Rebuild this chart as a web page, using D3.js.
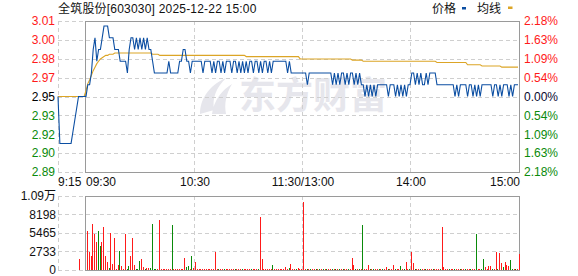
<!DOCTYPE html>
<html><head><meta charset="utf-8">
<script src="https://cdn.jsdelivr.net/npm/d3@7/dist/d3.min.js"></script>
<style>
html,body{margin:0;padding:0;background:#fff;}
svg text{font-family:"Liberation Sans",Arial,"Noto Sans CJK SC",sans-serif;font-size:12px;}
</style></head>
<body><svg id="c" width="578" height="276"></svg>
<script>
// ---------------- data ----------------
const title = "全筑股份[603030] 2025-12-22 15:00";
const legendNames = ["价格", "均线"];
const prevClose = 2.95;
const pctMax = 2.18;
const priceTickLabels = ["3.01","3.00","2.98","2.97","2.95","2.93","2.92","2.90","2.89"];
const pctTickLabels = ["2.18%","1.63%","1.09%","0.54%","0.00%","0.54%","1.09%","1.63%","2.18%"];
const timeTicks = [0, 60, 120, 180, 240];            // minutes after 09:30
const timeTickLabels = ["09:30", "10:30", "11:30/13:00", "14:00", "15:00"];
const preLabel = "9:15";
const volMax = 10930;
const volTickValues = [0, 2733, 5465, 8198, 10930];
const volTickLabels = ["0", "2733", "5465", "8198", "1.09万"];

// pre-market 9:15 - 9:29
const prePrice = [2.95,2.91,2.91,2.91,2.91,2.91,2.91,2.91,2.92,2.93,2.94,2.95,2.95,2.95,2.95];
const preAvg   = [2.95,2.95,2.95,2.95,2.95,2.95,2.95,2.95,2.95,2.95,2.95,2.95,2.95,2.95,2.95];
const preVol   = [0,0,0,0,0,0,0,0,0,0,0,1670,0,0,0];
const preDir   = "RRRRRRRRRRRRRRR";

// main session, one value per minute 09:30 .. 15:00 (241)
const price = [
2.95,2.96,2.96,2.97,2.99,3.00,2.98,2.99,2.99,3.00,
3.01,3.01,3.01,3.00,3.00,3.00,2.99,2.99,2.99,2.98,
2.98,2.98,2.98,2.97,2.99,3.00,3.00,2.99,3.00,2.99,
3.00,2.99,3.00,2.99,3.00,2.99,2.99,2.98,2.97,2.97,
2.97,2.97,2.97,2.97,2.97,2.97,2.98,2.97,2.97,2.97,
2.97,2.97,2.98,2.98,2.99,2.99,2.98,2.98,2.97,2.98,
2.98,2.98,2.98,2.98,2.98,2.97,2.98,2.98,2.98,2.98,
2.97,2.98,2.97,2.98,2.98,2.97,2.98,2.97,2.98,2.98,
2.98,2.97,2.98,2.98,2.97,2.98,2.97,2.98,2.97,2.98,
2.97,2.98,2.98,2.97,2.98,2.98,2.97,2.98,2.97,2.98,
2.98,2.97,2.98,2.97,2.98,2.98,2.98,2.98,2.98,2.98,
2.98,2.98,2.97,2.98,2.97,2.97,2.97,2.97,2.97,2.97,
2.97,2.97,2.97,2.96,2.97,2.97,2.97,2.97,2.97,2.97,
2.97,2.97,2.97,2.97,2.97,2.97,2.97,2.96,2.97,2.96,
2.97,2.96,2.97,2.97,2.96,2.97,2.96,2.97,2.97,2.96,
2.97,2.96,2.97,2.96,2.96,2.95,2.96,2.95,2.96,2.95,
2.96,2.95,2.96,2.96,2.96,2.96,2.96,2.96,2.95,2.96,
2.96,2.96,2.95,2.96,2.95,2.96,2.95,2.96,2.95,2.96,
2.96,2.97,2.97,2.96,2.97,2.96,2.97,2.96,2.96,2.97,
2.96,2.97,2.97,2.97,2.97,2.96,2.96,2.96,2.96,2.96,
2.96,2.96,2.96,2.96,2.96,2.95,2.96,2.95,2.96,2.96,
2.96,2.96,2.95,2.96,2.96,2.95,2.96,2.95,2.96,2.95,
2.96,2.96,2.96,2.96,2.96,2.96,2.95,2.96,2.96,2.95,
2.96,2.95,2.96,2.96,2.96,2.95,2.96,2.95,2.96,2.96,2.96];

const avg = [
2.955,2.961,2.964,2.968,2.972,2.975,2.978,2.980,2.982,2.983,
2.984,2.985,2.985,2.986,2.986,2.986,2.987,2.987,2.987,2.987,
2.987,2.987,2.987,2.987,2.987,2.987,2.987,2.987,2.987,2.987,
2.987,2.987,2.987,2.987,2.987,2.987,2.987,2.986,2.986,2.986,
2.986,2.985,2.985,2.985,2.985,2.985,2.985,2.985,2.985,2.985,
2.985,2.985,2.985,2.985,2.985,2.985,2.985,2.985,2.985,2.985,
2.985,2.985,2.985,2.985,2.985,2.985,2.985,2.985,2.985,2.985,
2.985,2.985,2.985,2.985,2.985,2.985,2.985,2.985,2.985,2.985,
2.985,2.985,2.985,2.985,2.985,2.985,2.985,2.985,2.985,2.984,
2.984,2.984,2.984,2.984,2.984,2.984,2.984,2.984,2.984,2.984,
2.984,2.984,2.984,2.984,2.984,2.984,2.984,2.984,2.984,2.984,
2.984,2.984,2.984,2.984,2.984,2.984,2.984,2.984,2.984,2.982,
2.982,2.982,2.982,2.982,2.982,2.982,2.982,2.982,2.982,2.982,
2.982,2.982,2.982,2.982,2.982,2.982,2.982,2.982,2.982,2.982,
2.982,2.982,2.982,2.982,2.982,2.982,2.982,2.982,2.981,2.981,
2.981,2.981,2.981,2.981,2.980,2.980,2.980,2.980,2.980,2.980,
2.980,2.980,2.980,2.980,2.980,2.980,2.980,2.980,2.980,2.980,
2.980,2.980,2.980,2.980,2.980,2.980,2.980,2.980,2.980,2.980,
2.980,2.980,2.980,2.980,2.980,2.980,2.980,2.980,2.980,2.980,
2.980,2.980,2.980,2.980,2.980,2.979,2.979,2.979,2.979,2.979,
2.979,2.979,2.979,2.979,2.979,2.979,2.979,2.979,2.979,2.979,
2.979,2.979,2.977,2.977,2.977,2.977,2.977,2.977,2.977,2.977,
2.976,2.976,2.976,2.976,2.976,2.976,2.976,2.976,2.976,2.976,
2.976,2.975,2.975,2.975,2.975,2.975,2.975,2.975,2.975,2.975,2.975];

const volume = [
5760,2650,2070,6840,5260,4130,5760,3540,4130,6350,
2070,1180,340,5460,840,4720,200,740,2800,590,
200,5310,200,590,2070,4770,740,200,150,1330,
1670,440,200,340,340,340,6840,200,200,150,
7380,200,200,150,200,200,150,6640,200,150,
200,200,150,200,1820,440,590,200,2070,340,
1180,200,150,200,200,150,200,200,150,200,
200,2650,200,150,200,200,150,200,200,150,
200,200,150,200,200,150,200,200,150,200,
200,150,200,200,150,200,7820,1670,200,150,
200,200,150,740,200,200,150,200,200,150,
440,200,340,890,150,200,150,300,200,150,
10080,200,150,200,200,150,200,200,150,200,
200,150,200,200,150,200,200,150,200,200,
150,200,200,150,200,200,150,1820,740,200,
150,200,200,6640,200,150,740,200,200,150,
200,200,150,200,200,150,440,200,150,200,
740,200,150,200,590,200,150,1180,200,150,
2650,1030,200,150,200,200,150,200,200,150,
200,200,150,200,200,150,200,6350,440,200,
150,200,200,150,200,200,150,200,200,150,
200,200,150,200,200,150,5310,200,150,200,
1620,440,200,590,590,200,150,2650,200,2510,
1030,440,1180,740,590,1480,150,200,150,200,2360];

// R = up (red) bar, G = down (green) bar
const volDir =
"RRRRRRGGRR"+"RRGRRRRRGR"+"RRGGRRRGGG"+"RRGRRGGGGR"+"RRRRRRRGRR"+
"RRRRRGGRGR"+"RRRRRRRRRR"+"RRRGRRGRRR"+"RRGRRRGRRR"+"RGRRRGRRRR"+
"RRRGRRRRRR"+"RRGRRRGRRR"+"RRGRGRRGRG"+"RGRGRRGRGR"+"GRGRRGRRRG"+
"RGRGRRRGRG"+"RRGRGRRGRR"+"RGRRGRGRRG"+"RRGRRGRRGR"+"RRGRRRGRRR"+
"RGRRGRRGRR"+"GRRGRRGRRG"+"GRRRRGRRGR"+"RGRRRGGRGRR";

// ---------------- drawing ----------------
const svg = d3.select("#c");
const C = {blue:"#0b4ea2", gold:"#dca526", red:"#ff1a1a", green:"#0a8a0a",
           grid:"#cfcfcf", frame:"#9a9a9a", text:"#111"};

const xPreL = 58, xMainL = 86, xMainR = 518, frameR = 519.5;
const pTop = 21, pBot = 172, vTop = 196, vBot = 270;

const xPre = d3.scaleLinear().domain([0, 15]).range([xPreL, xMainL]);
const x = d3.scaleLinear().domain([0, 240]).range([xMainL, xMainR]);
const pMin = prevClose * (1 - pctMax / 100), pMaxV = prevClose * (1 + pctMax / 100);
const y = d3.scaleLinear().domain([pMin, pMaxV]).range([pBot, pTop]);
const yv = d3.scaleLinear().domain([0, volMax]).range([vBot, vTop]);

const tickPrices = d3.range(9).map(i => pMaxV - i * (pMaxV - pMin) / 8);

// watermark
const wm = svg.append("g").attr("fill", "#e6e6ec");
wm.append("path").attr("d",
  "M200,114 C200,100 208,86 226,78 C216,88 212,98 214,110 Z M212,114 C214,100 222,90 232,84 C226,94 224,104 226,114 Z");
wm.append("text").attr("x", 239).attr("y", 109)
  .style("font-family", '"Noto Sans CJK SC",sans-serif').style("font-size", "37px")
  .style("font-weight", "700").text("东方财富");

// grid (price)
const grid = svg.append("g").attr("stroke", C.grid).attr("stroke-dasharray", "4,3")
  .attr("shape-rendering", "crispEdges");
tickPrices.forEach(p => grid.append("line")
  .attr("x1", xPreL).attr("x2", frameR).attr("y1", Math.round(y(p)) + 0.5).attr("y2", Math.round(y(p)) + 0.5));
[xPreL].concat(timeTicks.slice(1, 4).map(t => x(t))).forEach(xx => grid.append("line")
  .attr("x1", Math.round(xx) + 0.5).attr("x2", Math.round(xx) + 0.5).attr("y1", pTop).attr("y2", pBot));
// grid (volume)
volTickValues.forEach(v => grid.append("line")
  .attr("x1", xPreL).attr("x2", frameR).attr("y1", Math.round(yv(v)) + 0.5).attr("y2", Math.round(yv(v)) + 0.5));
[xPreL].concat(timeTicks.slice(1, 4).map(t => x(t))).forEach(xx => grid.append("line")
  .attr("x1", Math.round(xx) + 0.5).attr("x2", Math.round(xx) + 0.5).attr("y1", vTop).attr("y2", vBot));

// frames
svg.append("rect").attr("x", xMainL - 0.5).attr("y", pTop + 0.5).attr("width", frameR - xMainL)
  .attr("height", pBot - pTop).attr("fill", "none").attr("stroke", C.frame).attr("shape-rendering", "crispEdges");
svg.append("rect").attr("x", xMainL - 0.5).attr("y", vTop + 0.5).attr("width", frameR - xMainL)
  .attr("height", vBot - vTop).attr("fill", "none").attr("stroke", C.frame).attr("shape-rendering", "crispEdges");

// lines
const avgAll = preAvg.map((d, i) => [xPre(i), y(d)]).concat(avg.map((d, i) => [x(i), y(d)]));
const priceAll = prePrice.map((d, i) => [xPre(i), y(d)]).concat(price.map((d, i) => [x(i), y(d)]));
svg.append("path").attr("d", d3.line()(avgAll)).attr("fill", "none").attr("stroke", C.gold).attr("stroke-width", 1.1);
svg.append("path").attr("d", d3.line()(priceAll)).attr("fill", "none").attr("stroke", C.blue).attr("stroke-width", 1.1);

// volume bars
const bars = svg.append("g").attr("shape-rendering", "crispEdges");
preVol.forEach((v, i) => { if (v > 0) bars.append("rect")
  .attr("x", Math.round(xPre(i))).attr("width", 1).attr("y", yv(v)).attr("height", vBot - yv(v))
  .attr("fill", preDir[i] === "R" ? C.red : C.green); });
volume.forEach((v, i) => bars.append("rect")
  .attr("x", Math.round(x(i) + 1)).attr("width", 1).attr("y", yv(v)).attr("height", Math.max(1, vBot - yv(v)))
  .attr("fill", volDir[i] === "R" ? C.red : C.green));

// left/right price labels
const lab = svg.append("g");
tickPrices.forEach((p, i) => {
  const col = i < 4 ? C.red : (i === 4 ? "#000" : C.green);
  lab.append("text").attr("x", 55).attr("y", y(p) + 4.3).attr("text-anchor", "end")
    .attr("fill", col).text(priceTickLabels[i]);
  lab.append("text").attr("x", 524).attr("y", y(p) + 4.3).attr("text-anchor", "start")
    .attr("fill", i === 4 ? "#0a0a30" : col).text(pctTickLabels[i]);
});
// volume labels
volTickValues.forEach((v, i) => lab.append("text").attr("x", 56).attr("y", yv(v) + 4.3)
  .attr("text-anchor", "end").attr("fill", C.text).text(volTickLabels[i]));

// time labels
lab.append("text").attr("x", xPreL).attr("y", 186).attr("fill", C.text).text(preLabel);
timeTicks.forEach((t, i) => {
  const anchor = i === 0 ? "start" : (i === timeTicks.length - 1 ? "end" : "middle");
  const xx = i === 0 ? x(t) : (i === timeTicks.length - 1 ? frameR + 0.5 : x(t) + 1);
  lab.append("text").attr("x", xx).attr("y", 186).attr("text-anchor", anchor).attr("fill", C.text).text(timeTickLabels[i]);
});

// title & legend
lab.append("text").attr("x", 58).attr("y", 13).attr("fill", C.text)
  .style("letter-spacing", "0.2px").text(title);
lab.append("text").attr("x", 432).attr("y", 13).attr("fill", C.text).text(legendNames[0]);
lab.append("rect").attr("x", 462).attr("y", 7).attr("width", 4).attr("height", 2.5).attr("fill", C.blue);
lab.append("text").attr("x", 477).attr("y", 13).attr("fill", C.text).text(legendNames[1]);
lab.append("rect").attr("x", 508).attr("y", 6.5).attr("width", 4.5).attr("height", 2.5).attr("fill", C.gold);
</script></body></html>
